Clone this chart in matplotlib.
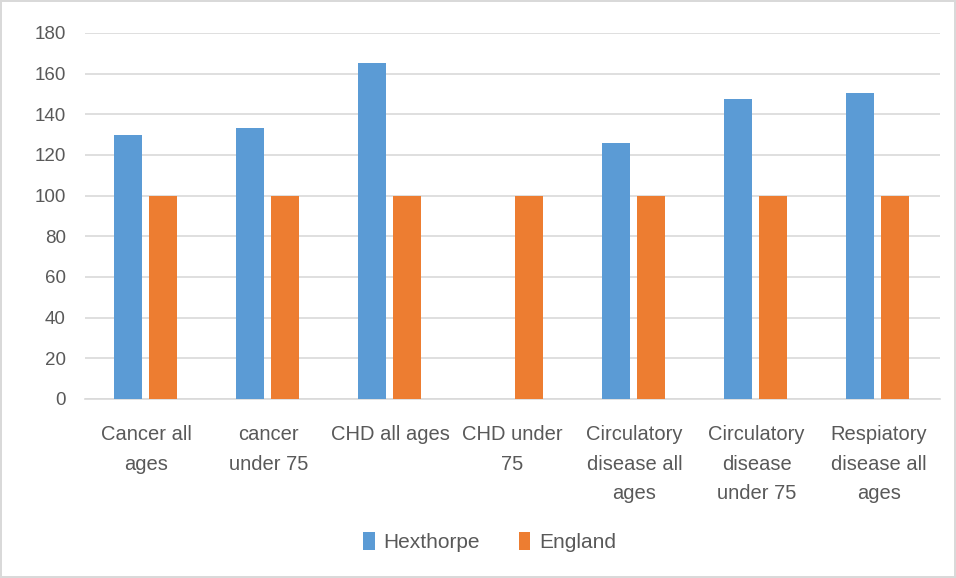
import numpy as np
import matplotlib.pyplot as plt
import matplotlib

matplotlib.use('Agg')

categories = ["Cancer all\nages", "cancer\nunder 75", "CHD all ages", "CHD under\n75",
              "Circulatory\ndisease all\nages", "Circulatory\ndisease\nunder 75",
              "Respiatory\ndisease all\nages"]
hexthorpe = [130, 133, 165, np.nan, 126, 147.5, 150.5]
england = [100, 100, 100, 100, 100, 100, 100]
yticks = [0, 20, 40, 60, 80, 100, 120, 140, 160, 180]

plt.rcParams['font.family'] = ['Liberation Sans Narrow', 'Liberation Sans', 'DejaVu Sans']
text_color = '#595959'


def main():
    fig = plt.figure(figsize=(9.56, 5.78), dpi=100)
    fig.patch.set_edgecolor('#D9D9D9')
    fig.patch.set_linewidth(1.5)
    ax = fig.add_axes([0.089, 0.310, 0.894, 0.633])

    x = np.arange(len(categories))
    w = 0.23
    ax.bar(x - 0.152, hexthorpe, w, color='#5B9BD5', label='Hexthorpe', zorder=3)
    ax.bar(x + 0.135, england, w, color='#ED7D31', label='England', zorder=3)

    ax.set_xlim(-0.5, len(categories) - 0.5)
    ax.set_ylim(0, 180)
    ax.set_yticks(yticks)
    ax.set_xticks(x)
    ax.set_xticklabels(categories, linespacing=1.7, fontsize=14.5)
    ax.tick_params(axis='both', length=0, labelsize=13.5, colors=text_color)
    ax.tick_params(axis='x', pad=19, labelsize=14.5)
    ax.tick_params(axis='y', pad=14)
    ax.yaxis.grid(True, color='#D9D9D9', linewidth=1.2, zorder=0)
    for s in ['top', 'right', 'left']:
        ax.spines[s].set_visible(False)
    ax.spines['bottom'].set_color('#D9D9D9')
    ax.spines['bottom'].set_linewidth(1.2)

    leg = fig.legend(loc='center', bbox_to_anchor=(0.512, 0.062), ncol=2, frameon=False,
                     fontsize=15, handlelength=0.55, handleheight=0.9, handletextpad=0.4,
                     columnspacing=1.9)
    for t in leg.get_texts():
        t.set_color(text_color)

    fig.savefig('out.png', dpi=100)
    plt.close(fig)


if __name__ == "__main__":
    main()
